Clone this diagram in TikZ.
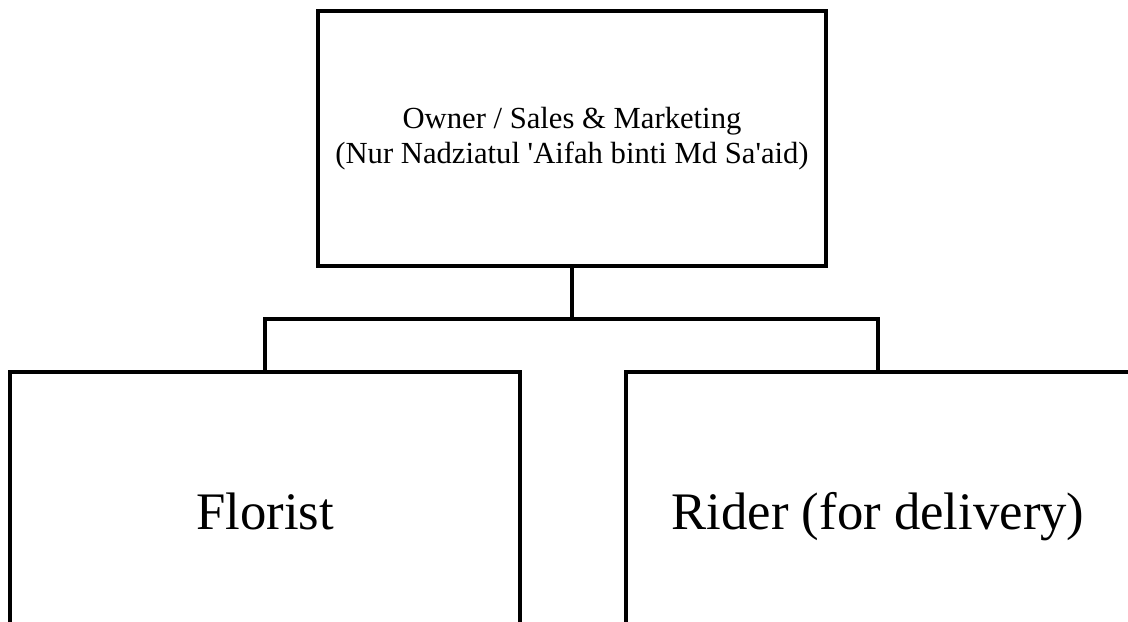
\documentclass[tikz,border=0pt]{standalone}
\usepackage{fontspec}
\setmainfont{Liberation Serif}
\usepackage{tikz}
\usetikzlibrary{positioning}

\begin{document}
\begin{tikzpicture}[
  x=0.025cm,y=-0.025cm,
  box/.style={draw,line width=2.6pt,inner sep=0pt},
  big/.style={font=\fontsize{37.5}{42}\selectfont,text height=34pt,text depth=7pt},
  conn/.style={line width=2.3pt}
]
\path[use as bounding box,clip] (0,0) rectangle (1128,622);
\fill[white] (0,0) rectangle (1128,622);
\node[box,align=center,minimum width=12.7cm,minimum height=6.375cm,
  font=\fontsize{21.8}{25.3}\selectfont] (owner) at (572,138.5)
  {Owner / Sales \& Marketing\\(Nur Nadziatul \textquotesingle Aifah binti Md Sa\textquotesingle aid)};
\node[box,big,minimum width=12.75cm,minimum height=6.95cm] (florist) at (265,511) {Florist};
\node[box,big,minimum width=12.6cm,minimum height=6.95cm] (rider) at (878,511) {Rider (for delivery)};
\coordinate (split) at (572,319);
\draw[conn] (owner.south) -- (split) -| (florist.north);
\draw[conn] (split) -| (rider.north);
\end{tikzpicture}
\end{document}
